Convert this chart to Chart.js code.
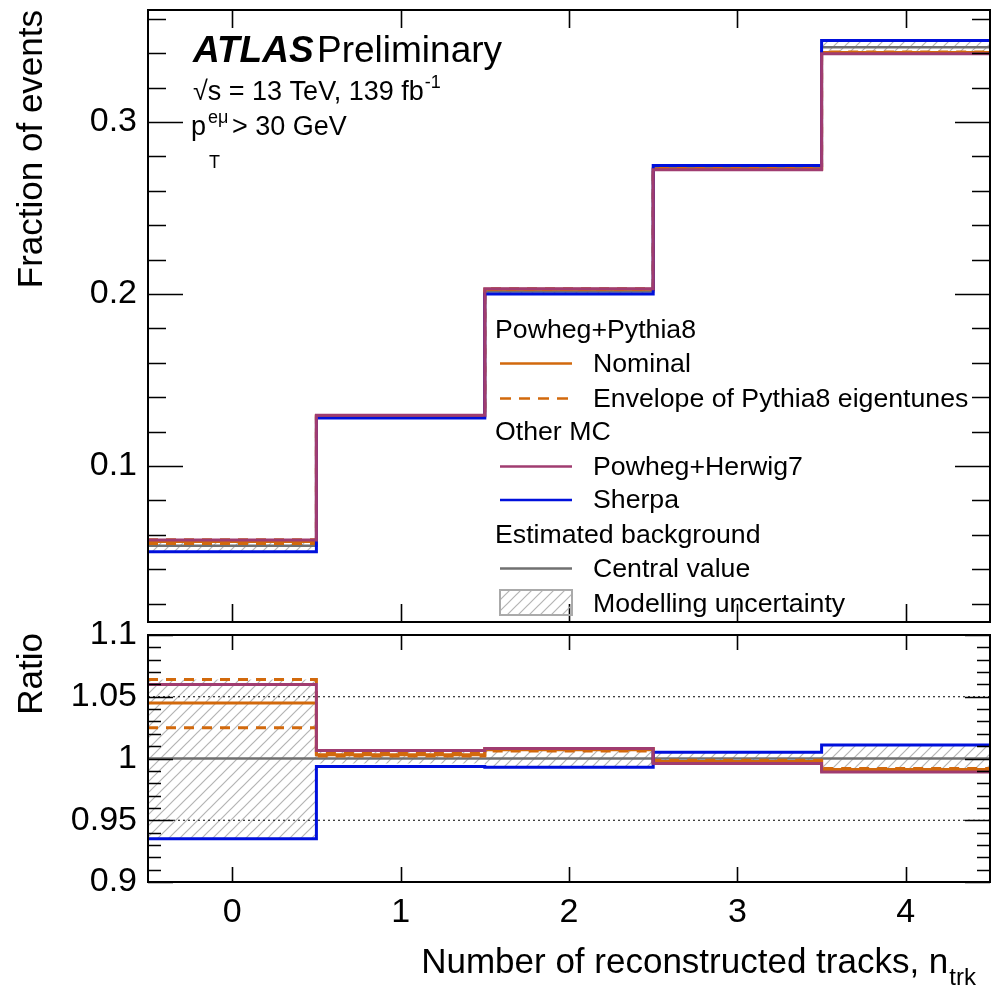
<!DOCTYPE html>
<html>
<head>
<meta charset="utf-8">
<script src="https://cdn.jsdelivr.net/npm/chart.js@4.4.0/dist/chart.umd.min.js"></script>
<style>
  html, body { margin: 0; padding: 0; background: #fff; }
  #wrap { position: relative; width: 992px; height: 990px; }
  #mainBox { position: absolute; left: 0; top: 0; width: 992px; height: 630px; }
  #ratioBox { position: absolute; left: 0; top: 600px; width: 992px; height: 390px; }
</style>
</head>
<body>
<div id="wrap">
  <div id="mainBox"><canvas id="mainChart"></canvas></div>
  <div id="ratioBox"><canvas id="ratioChart"></canvas></div>
</div>
<script>
// bins of n_trk
const binEdges = [-0.5, 0.5, 1.5, 2.5, 3.5, 4.5];
const xTicks = [0, 1, 2, 3, 4];
const xTickLabels = ['0', '1', '2', '3', '4'];

// fraction of events per bin
const bgCentral = [0.0537, 0.1287, 0.2014, 0.2733, 0.3435];
const bgLow     = [0.0502, 0.1282, 0.2000, 0.2722, 0.3401];
const bgHigh    = [0.0571, 0.1294, 0.2030, 0.2747, 0.3473];
const nominal   = [0.0561, 0.1291, 0.2028, 0.2726, 0.3404];
const envUp     = [0.0571, 0.1292, 0.2030, 0.2729, 0.3407];
const envDown   = [0.0550, 0.1289, 0.2026, 0.2724, 0.3401];
const herwig    = [0.0569, 0.1295, 0.2030, 0.2722, 0.3397];
const sherpa    = [0.0502, 0.1279, 0.2000, 0.2747, 0.3473];

// ratio to estimated background
const rCentral  = [1, 1, 1, 1, 1];
const rLow      = [0.935, 0.996, 0.993, 0.996, 0.990];
const rHigh     = [1.064, 1.0055, 1.008, 1.005, 1.011];
const rNominal  = [1.045, 1.003, 1.007, 0.9975, 0.991];
const rEnvUp    = [1.064, 1.004, 1.008, 0.9985, 0.992];
const rEnvDown  = [1.025, 1.002, 1.006, 0.9968, 0.990];
const rHerwig   = [1.060, 1.0065, 1.008, 0.996, 0.989];
const rSherpa   = [0.935, 0.9935, 0.993, 1.005, 1.011];

const mainTickVals = [0.1, 0.2, 0.3];
const mainTickLabels = ['0.1', '0.2', '0.3'];
const ratioTickVals = [0.9, 0.95, 1, 1.05, 1.1];
const ratioTickLabels = ['0.9', '0.95', '1', '1.05', '1.1'];
const refLines = [0.95, 1.05];

const FONT = '"Liberation Sans", Arial, sans-serif';
const C_NOM = '#d2690c';
const C_HER = '#a03c70';
const C_SHE = '#0010dc';
const C_BG = '#707070';
const C_HATCH = '#b4b4b4';

function makeHatch(color) {
  const s = 11;
  const c = document.createElement('canvas');
  c.width = s; c.height = s;
  const g = c.getContext('2d');
  g.strokeStyle = color;
  g.lineWidth = 1.2;
  g.beginPath();
  g.moveTo(0, s); g.lineTo(s, 0);
  g.moveTo(-1, 1); g.lineTo(1, -1);
  g.moveTo(s - 1, s + 1); g.lineTo(s + 1, s - 1);
  g.stroke();
  return g.createPattern(c, 'repeat');
}
const hatch = makeHatch(C_HATCH);

function stepPoints(values) {
  const pts = values.map((v, i) => ({ x: binEdges[i], y: v }));
  pts.push({ x: binEdges[values.length], y: values[values.length - 1] });
  return pts;
}

function histLine(label, values, color, width, dash) {
  return {
    label, data: stepPoints(values), stepped: true,
    borderColor: color, borderWidth: width, borderDash: dash || [],
    pointRadius: 0, fill: false
  };
}

function bandDatasets(lo, hi) {
  return [
    { label: 'band hi', data: stepPoints(hi), stepped: true, borderWidth: 0,
      borderColor: 'transparent', backgroundColor: hatch, pointRadius: 0, fill: '+1' },
    { label: 'band lo', data: stepPoints(lo), stepped: true, borderWidth: 0,
      borderColor: 'transparent', pointRadius: 0, fill: false }
  ];
}

// fixed axis box, no extra label padding around the plot area
function fixWidth(w) {
  return s => { s.width = w; s.paddingTop = 0; s.paddingBottom = 0; };
}
function fixHeight(h) {
  return s => { s.height = h; s.paddingLeft = 0; s.paddingRight = 0; };
}

// inward ticks on all four sides plus the frame
const frameTicks = {
  id: 'frameTicks',
  afterDatasetsDraw(chart, args, o) {
    const { ctx, chartArea: a } = chart;
    const xs = chart.scales.x, ys = chart.scales.y;
    ctx.save();
    ctx.strokeStyle = '#000';
    ctx.lineWidth = 1.6;
    ctx.beginPath();
    const yTick = (v, len) => {
      const p = Math.round(ys.getPixelForValue(v)) + 0.5;
      ctx.moveTo(a.left, p); ctx.lineTo(a.left + len, p);
      ctx.moveTo(a.right, p); ctx.lineTo(a.right - len, p);
    };
    o.yMinor.forEach(v => yTick(v, o.minorLen));
    o.yMajor.forEach(v => yTick(v, o.majorLen));
    xTicks.forEach(v => {
      const p = Math.round(xs.getPixelForValue(v)) + 0.5;
      ctx.moveTo(p, a.bottom); ctx.lineTo(p, a.bottom - o.xLen);
      ctx.moveTo(p, a.top); ctx.lineTo(p, a.top + o.xLen);
    });
    ctx.stroke();
    ctx.lineWidth = 2;
    ctx.strokeRect(a.left, a.top, a.right - a.left, a.bottom - a.top);
    ctx.restore();
  }
};

function legendLine(ctx, y, color, dash) {
  ctx.save();
  ctx.strokeStyle = color;
  ctx.lineWidth = 2.4;
  ctx.setLineDash(dash || []);
  ctx.beginPath();
  ctx.moveTo(500, y); ctx.lineTo(572, y);
  ctx.stroke();
  ctx.restore();
}

const mainText = {
  id: 'mainText',
  afterDraw(chart) {
    const ctx = chart.ctx;
    ctx.save();
    ctx.fillStyle = '#000';
    ctx.textBaseline = 'alphabetic';
    ctx.textAlign = 'left';

    ctx.font = 'italic bold 37px ' + FONT;
    ctx.fillText('ATLAS', 193, 62);
    ctx.font = '37px ' + FONT;
    ctx.fillText('Preliminary', 317, 62);

    ctx.font = '27px ' + FONT;
    ctx.fillText('\u221As = 13 TeV, 139 fb', 193, 100);
    let w = ctx.measureText('\u221As = 13 TeV, 139 fb').width;
    ctx.font = '18px ' + FONT;
    ctx.fillText('-1', 193 + w + 1, 88);

    ctx.font = '27px ' + FONT;
    ctx.fillText('p', 191, 135);
    ctx.font = '18px ' + FONT;
    ctx.fillText('e\u03BC', 208, 123);
    ctx.fillText('T', 209, 168);
    ctx.font = '27px ' + FONT;
    ctx.fillText('> 30 GeV', 232, 135);

    // legend
    ctx.font = '26.7px ' + FONT;
    ctx.fillText('Powheg+Pythia8', 495, 338);
    ctx.fillText('Nominal', 593, 372);
    ctx.fillText('Envelope of Pythia8 eigentunes', 593, 407);
    ctx.fillText('Other MC', 495, 440);
    ctx.fillText('Powheg+Herwig7', 593, 475);
    ctx.fillText('Sherpa', 593, 508);
    ctx.fillText('Estimated background', 495, 543);
    ctx.fillText('Central value', 593, 577);
    ctx.fillText('Modelling uncertainty', 593, 612);
    legendLine(ctx, 363.5, C_NOM);
    legendLine(ctx, 398.5, C_NOM, [11, 8]);
    legendLine(ctx, 466.5, C_HER);
    legendLine(ctx, 500, C_SHE);
    legendLine(ctx, 568.5, C_BG);
    ctx.fillStyle = hatch;
    ctx.fillRect(500, 590, 72, 25);
    ctx.strokeStyle = '#aaaaaa';
    ctx.lineWidth = 2;
    ctx.strokeRect(500, 590, 72, 25);

    // y title
    ctx.fillStyle = '#000';
    ctx.font = '35px ' + FONT;
    ctx.translate(42, 10);
    ctx.rotate(-Math.PI / 2);
    ctx.textAlign = 'right';
    ctx.fillText('Fraction of events', 0, 0);
    ctx.restore();
  }
};

const ratioText = {
  id: 'ratioText',
  afterDraw(chart) {
    const ctx = chart.ctx;
    ctx.save();
    ctx.fillStyle = '#000';
    ctx.textBaseline = 'alphabetic';
    ctx.font = '24px ' + FONT;
    ctx.textAlign = 'right';
    ctx.fillText('trk', 976, 385);
    const wt = ctx.measureText('trk').width;
    ctx.font = '35px ' + FONT;
    ctx.fillText('Number of reconstructed tracks, n', 976 - wt - 1, 373);

    ctx.translate(42, 33);
    ctx.rotate(-Math.PI / 2);
    ctx.fillText('Ratio', 0, 0);
    ctx.restore();
  }
};

const mainMinor = [];
for (let k = 1; k <= 18; k++) if (k % 5) mainMinor.push(k * 0.02);
const ratioMinor = [];
for (let k = 90; k <= 110; k++) if (k % 5) ratioMinor.push(k / 100);

const tickFont = { family: FONT, size: 34 };

new Chart(document.getElementById('mainChart'), {
  type: 'line',
  data: {
    datasets: [
      histLine('Powheg+Herwig7', herwig, C_HER, 3),
      histLine('Sherpa', sherpa, C_SHE, 3),
      histLine('Nominal', nominal, C_NOM, 3),
      histLine('Envelope up', envUp, C_NOM, 3, [10, 8]),
      histLine('Envelope down', envDown, C_NOM, 3, [10, 8]),
      histLine('Central value', bgCentral, C_BG, 2.5),
      ...bandDatasets(bgLow, bgHigh)
    ]
  },
  options: {
    responsive: true,
    maintainAspectRatio: false,
    animation: false,
    events: [],
    layout: { padding: { top: 10, right: 2, bottom: 8, left: 0 } },
    plugins: {
      legend: { display: false },
      tooltip: { enabled: false },
      frameTicks: { yMajor: mainTickVals, yMinor: mainMinor, majorLen: 35, minorLen: 18, xLen: 18 }
    },
    scales: {
      x: { type: 'linear', min: -0.5, max: 4.5, display: false },
      y: {
        type: 'linear', min: 0.0093, max: 0.3651,
        afterBuildTicks: s => { s.ticks = mainTickVals.map(v => ({ value: v })); },
        afterFit: fixWidth(148),
        grid: { display: false, drawTicks: false },
        border: { display: false },
        ticks: { callback: (v, i) => mainTickLabels[i], font: tickFont, color: '#000', padding: 11, autoSkip: false }
      }
    }
  },
  plugins: [frameTicks, mainText]
});

new Chart(document.getElementById('ratioChart'), {
  type: 'line',
  data: {
    datasets: [
      histLine('Powheg+Herwig7', rHerwig, C_HER, 3),
      histLine('Sherpa', rSherpa, C_SHE, 3),
      histLine('Nominal', rNominal, C_NOM, 3),
      histLine('Envelope up', rEnvUp, C_NOM, 3, [10, 8]),
      histLine('Envelope down', rEnvDown, C_NOM, 3, [10, 8]),
      histLine('Central value', rCentral, C_BG, 2.5),
      ...refLines.map(v => ({
        label: 'ref', data: [{ x: -0.5, y: v }, { x: 4.5, y: v }],
        borderColor: '#000', borderWidth: 1.2, borderDash: [2, 3], pointRadius: 0, fill: false
      })),
      ...bandDatasets(rLow, rHigh)
    ]
  },
  options: {
    responsive: true,
    maintainAspectRatio: false,
    animation: false,
    events: [],
    layout: { padding: { top: 35, right: 2, bottom: 0, left: 0 } },
    plugins: {
      legend: { display: false },
      tooltip: { enabled: false },
      frameTicks: { yMajor: ratioTickVals, yMinor: ratioMinor, majorLen: 25, minorLen: 13, xLen: 15 }
    },
    scales: {
      x: {
        type: 'linear', min: -0.5, max: 4.5,
        afterBuildTicks: s => { s.ticks = xTicks.map(v => ({ value: v })); },
        afterFit: fixHeight(108),
        grid: { display: false, drawTicks: false },
        border: { display: false },
        ticks: { callback: (v, i) => xTickLabels[i], font: tickFont, color: '#000', padding: 10, autoSkip: false, maxRotation: 0 }
      },
      y: {
        type: 'linear', min: 0.9, max: 1.1,
        afterBuildTicks: s => { s.ticks = ratioTickVals.map(v => ({ value: v })); },
        afterFit: fixWidth(148),
        grid: { display: false, drawTicks: false },
        border: { display: false },
        ticks: { callback: (v, i) => ratioTickLabels[i], font: tickFont, color: '#000', padding: 11, autoSkip: false }
      }
    }
  },
  plugins: [frameTicks, ratioText]
});
</script>
</body>
</html>
